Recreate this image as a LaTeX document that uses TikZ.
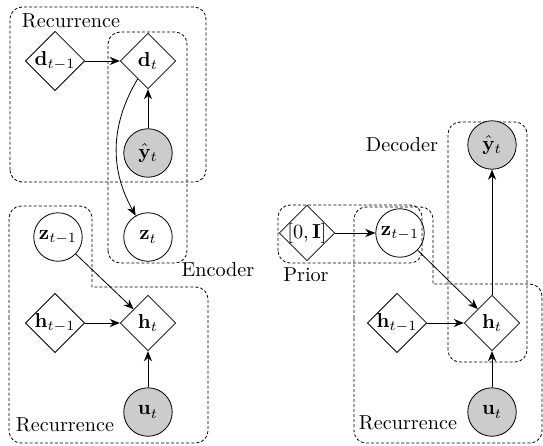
\documentclass[tikz,border=0pt]{standalone}
\usepackage{amsmath}
\usepackage{amssymb}
\usepackage{tikz}
\usetikzlibrary{shapes.geometric, arrows.meta}

\begin{document}
\begin{tikzpicture}[>={Stealth[length=5pt, width=4pt, inset=1.6pt]},
                det/.style={draw, diamond, minimum size=27.5pt, inner sep=0pt},
                lat/.style={draw, circle, minimum size=24pt, inner sep=0pt},
                obs/.style={lat, fill=black!20},
                grp/.style={draw, dash pattern=on 1.5pt off 1pt, rounded corners=6pt}]
                \useasboundingbox (0,0) rectangle (9.448,7.743);
                \draw[grp] (0.174,4.576) rectangle (3.584,7.621);
                \draw[grp] (1.879,3.167) rectangle (3.254,7.186);
                \draw[grp] (0.157,2) -- (0.157,4.159) -- (1.601,4.159) [sharp corners] -- (1.601,2.749) [rounded corners=6pt] -- (3.619,2.749) -- (3.619,0.035) -- (0.157,0.035) -- cycle;
                \draw[grp] (4.837,3.167) rectangle (7.343,4.176);
                \draw[grp] (7.795,1.444) rectangle (9.170,5.620);
                \draw[grp] (6.160,2) -- (6.160,4.141) -- (7.534,4.141) [sharp corners] -- (7.534,2.801) [rounded corners=6pt] -- (9.431,2.801) -- (9.431,0.035) -- (6.160,0.035) -- cycle;
                \node(l1) at (1.235,7.378){Recurrence};
                \node(l2) at (3.793,3.045){Encoder};
                \node(l3) at (1.131,0.348){Recurrence};
                \node(l4) at (5.324,2.958){Prior};
                \node(l5) at (6.995,5.220){Decoder};
                \node(l6) at (7.099,0.383){Recurrence};
                \node[det](dp) at (0.957,6.682){$\mathbf{d}_{t-1}$};
                \node[det](d) at (2.575,6.682){$\mathbf{d}_t$};
                \node[obs](yl) at (2.575,5.081){$\hat{\mathbf{y}}_t$};
                \node[lat](zl) at (2.575,3.619){$\mathbf{z}_t$};
                \node[lat](zpl) at (1.009,3.619){$\mathbf{z}_{t-1}$};
                \node[det](hpl) at (0.957,2.123){$\mathbf{h}_{t-1}$};
                \node[det](hl) at (2.575,2.123){$\mathbf{h}_t$};
                \node[obs](ul) at (2.575,0.574){$\mathbf{u}_t$};
                \node[det](pr) at (5.342,3.689){\makebox[17.5pt]{$[0,\mathbf{I}]$}};
                \node[lat](zpr) at (6.960,3.689){$\mathbf{z}_{t-1}$};
                \node[det](hpr) at (6.908,2.123){$\mathbf{h}_{t-1}$};
                \node[det](hr) at (8.561,2.123){$\mathbf{h}_t$};
                \node[obs](yr) at (8.561,5.220){$\hat{\mathbf{y}}_t$};
                \node[obs](ur) at (8.561,0.574){$\mathbf{u}_t$};
                \path (dp) edge[->] (d);
                \path (yl) edge[->] (d);
                \path (d) edge[->, bend right=30] (zl);
                \path (zpl) edge[->] (hl);
                \path (hpl) edge[->] (hl);
                \path (ul) edge[->] (hl);
                \path (pr) edge[->] (zpr);
                \path (zpr) edge[->] (hr);
                \path (hpr) edge[->] (hr);
                \path (ur) edge[->] (hr);
                \path (hr) edge[->] (yr);
                \end{tikzpicture}
\end{document}
